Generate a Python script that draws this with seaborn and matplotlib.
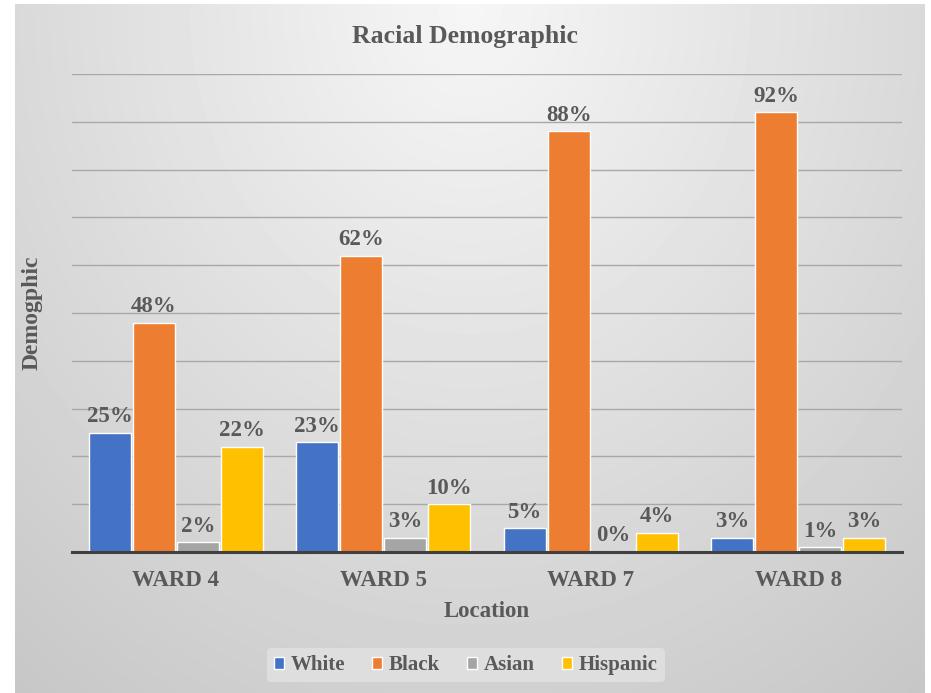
import numpy as np
import pandas as pd
import matplotlib
matplotlib.use("Agg")
import matplotlib.pyplot as plt
import seaborn as sns

# ---- data ----
locations = ["WARD 4", "WARD 5", "WARD 7", "WARD 8"]
races = ["White", "Black", "Asian", "Hispanic"]
white = [25, 23, 5, 3]
black = [48, 62, 88, 92]
asian = [2, 3, 0, 1]
hispanic = [22, 10, 4, 3]
colors = ["#4472C4", "#ED7D31", "#A5A5A5", "#FFC000"]

df = pd.DataFrame({
    "Location": locations * 4,
    "Race": sum([[r] * 4 for r in races], []),
    "Value": white + black + asian + hispanic,
})

sns.set_theme(style="white")
plt.rcParams["font.family"] = ["Liberation Serif", "DejaVu Serif"]
TXT = "#595959"

W, H = 931, 693
fig = plt.figure(figsize=(W / 100, H / 100), dpi=100)
fig.patch.set_facecolor("white")

# background gradient panel
bg = fig.add_axes([15 / W, 0, 910 / W, 689 / H], zorder=-5)
ny, nx = 200, 300
yy, xx = np.mgrid[0:1:ny * 1j, 0:1:nx * 1j]
d = np.sqrt(0.45 * ((xx - 0.5) / 0.5) ** 2 + 0.75 * yy ** 2)
v = np.clip(0.965 - 0.17 * d, 0, 1)
bg.imshow(v, cmap="gray", vmin=0, vmax=1, aspect="auto", extent=[0, 1, 1, 0],
          interpolation="bilinear")
bg.set_axis_off()

ax = fig.add_axes([72 / W, 1 - 552 / H, 830 / W, (552 - 74) / H])
ax.set_facecolor("none")
sns.barplot(data=df, x="Location", y="Value", hue="Race", hue_order=races,
            palette=colors, width=0.85, gap=0.05, saturation=1, ax=ax,
            legend=True, zorder=3)

ax.set_ylim(0, 100)
ax.set_xlim(-0.5, 3.5)
ax.set_yticks(np.arange(0, 101, 10))
ax.yaxis.grid(True, color="#a8a8a8", linewidth=1.0, zorder=0)
ax.set_axisbelow(True)
ax.tick_params(axis="y", left=False, labelleft=False)
ax.tick_params(axis="x", length=0, pad=13, labelsize=16.5, labelcolor=TXT)
for lbl in ax.get_xticklabels():
    lbl.set_fontweight("bold")
for s in ["top", "right", "left"]:
    ax.spines[s].set_visible(False)
ax.spines["bottom"].set_color("#404040")
ax.spines["bottom"].set_linewidth(2.2)
ax.spines["bottom"].set_zorder(4)

for cont in ax.containers:
    ax.bar_label(cont, fmt="%.0f%%", padding=4, fontsize=16.5,
                 fontweight="bold", color=TXT)

ax.set_xlabel("Location", fontsize=16.5, fontweight="bold", color=TXT)
ax.xaxis.set_label_coords(0.5, (552 - 601) / 478)
ax.set_ylabel("Demogphic", fontsize=17, fontweight="bold", color=TXT, va="center")
ax.yaxis.set_label_coords((32 - 72) / 830, (552 - 313) / 478)

fig.text(0.5, 1 - 37 / H, "Racial Demographic", ha="center", va="center",
         fontsize=18.5, fontweight="bold", color=TXT)

handles, labels = ax.get_legend_handles_labels()
ax.get_legend().remove()
leg = fig.legend(handles, labels, loc="center", bbox_to_anchor=(0.5, 1 - 665 / H),
                 ncol=4, frameon=True, fontsize=15, handlelength=0.5,
                 handleheight=0.5, handletextpad=0.3, columnspacing=1.3,
                 borderpad=0.35)
leg.get_frame().set_facecolor("#e2e2e2")
leg.get_frame().set_edgecolor("none")
leg.get_frame().set_alpha(0.8)
for t in leg.get_texts():
    t.set_color(TXT)
    t.set_fontweight("bold")

fig.savefig("out.png", dpi=100, facecolor=fig.get_facecolor())
